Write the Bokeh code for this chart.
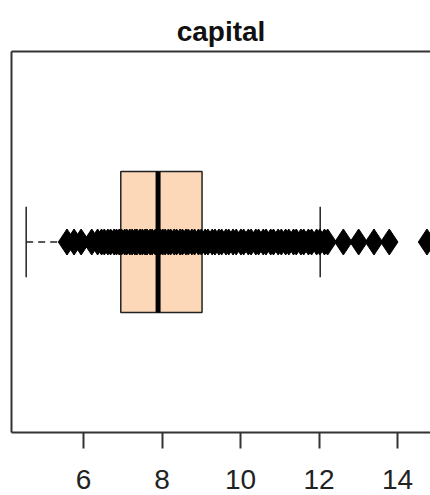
from bokeh.plotting import figure
from bokeh.models import Range1d, LinearAxis, FixedTicker
from bokeh.embed import file_html
from bokeh.resources import INLINE

# ---- data ----
title_text = "capital"
tick_values = [6, 8, 10, 12, 14]

# individual observations drawn as diamonds
capital = [
    5.58, 5.76, 5.94, 6.21, 6.36, 6.46, 6.53, 6.62, 6.69, 6.78, 6.84, 6.91,
    6.97, 7.05, 7.10, 7.18, 7.24, 7.31, 7.36, 7.44, 7.50, 7.57, 7.62, 7.70,
    7.75, 7.83, 7.88, 7.96, 8.02, 8.08, 8.16, 8.22, 8.31, 8.37, 8.46, 8.52,
    8.61, 8.67, 8.76, 8.83, 8.93, 9.00, 9.10, 9.17, 9.28, 9.35, 9.45, 9.52,
    9.63, 9.70, 9.81, 9.89, 10.01, 10.08, 10.20, 10.27, 10.39, 10.46, 10.58,
    10.65, 10.77, 10.84, 10.96, 11.04, 11.15, 11.23, 11.35, 11.42, 11.54,
    11.61, 11.73, 11.81, 11.94, 12.02, 12.14, 12.22, 12.62, 13.01, 13.40,
    13.79, 14.75,
]

# five-number summary of the box
whisker_low = [4.54]
q1 = [6.95]
median = [7.90]
q3 = [9.02]
whisker_high = [12.03]
center = [1.0]

box_half = 0.2
cap_half = 0.1

p = figure(
    width=430, height=495,
    output_backend="svg", toolbar_location=None,
    x_range=Range1d(4.166, 14.84), y_range=Range1d(0.46, 1.54),
    title=title_text,
    min_border_left=11, min_border_right=0,
    min_border_top=51, min_border_bottom=63,
)
p.grid.visible = False
p.outline_line_color = None
p.background_fill_color = "white"
p.border_fill_color = "white"

p.title.align = "center"
p.title.offset = 4
p.title.text_font = "Liberation Sans"
p.title.text_font_size = "28px"
p.title.text_font_style = "bold"
p.title.text_color = "#111111"
p.title.text_line_height = 0.6
p.title.standoff = 10

# bottom axis
xa = p.xaxis[0]
xa.ticker = FixedTicker(ticks=tick_values)
xa.major_label_text_font = "Liberation Sans"
xa.major_label_text_font_size = "28px"
xa.major_label_text_color = "#222222"
xa.major_label_text_line_height = 0.8
xa.major_tick_out = 16
xa.major_tick_in = 0
xa.major_tick_line_width = 2
xa.major_tick_line_color = "#333333"
xa.minor_tick_line_color = None
xa.axis_line_width = 2
xa.axis_line_color = "#333333"
xa.major_label_standoff = 21

# left axis: border only
ya = p.yaxis[0]
ya.ticker = FixedTicker(ticks=[])
ya.major_tick_line_color = None
ya.minor_tick_line_color = None
ya.major_label_text_font_size = "0px"
ya.major_label_standoff = 0
ya.axis_line_width = 2
ya.axis_line_color = "#333333"

# top border
top = LinearAxis(ticker=FixedTicker(ticks=[]))
top.major_tick_line_color = None
top.minor_tick_line_color = None
top.major_label_text_font_size = "0px"
top.major_label_standoff = 0
top.axis_line_width = 2
top.axis_line_color = "#333333"
p.add_layout(top, "above")

c = center[0]
# box
p.quad(left=q1, right=q3, bottom=[c - box_half], top=[c + box_half],
       fill_color="#FCD8B8", line_color="#222222", line_width=1.5)
# whiskers (dashed)
p.segment(x0=whisker_low, y0=center, x1=q1, y1=center,
          line_color="#222222", line_width=1.5, line_dash="7 5")
p.segment(x0=q3, y0=center, x1=whisker_high, y1=center,
          line_color="#222222", line_width=1.5, line_dash="7 5")
# whisker caps
p.segment(x0=whisker_low + whisker_high, y0=[c - cap_half] * 2,
          x1=whisker_low + whisker_high, y1=[c + cap_half] * 2,
          line_color="#222222", line_width=1.5)
# median
p.segment(x0=median, y0=[c - box_half], x1=median, y1=[c + box_half],
          line_color="black", line_width=5)
# points
p.scatter(x=capital, y=[c] * len(capital), marker="diamond", size=26,
          fill_color="black", line_color="black")

open("out.html", "w").write(file_html(p, INLINE))
